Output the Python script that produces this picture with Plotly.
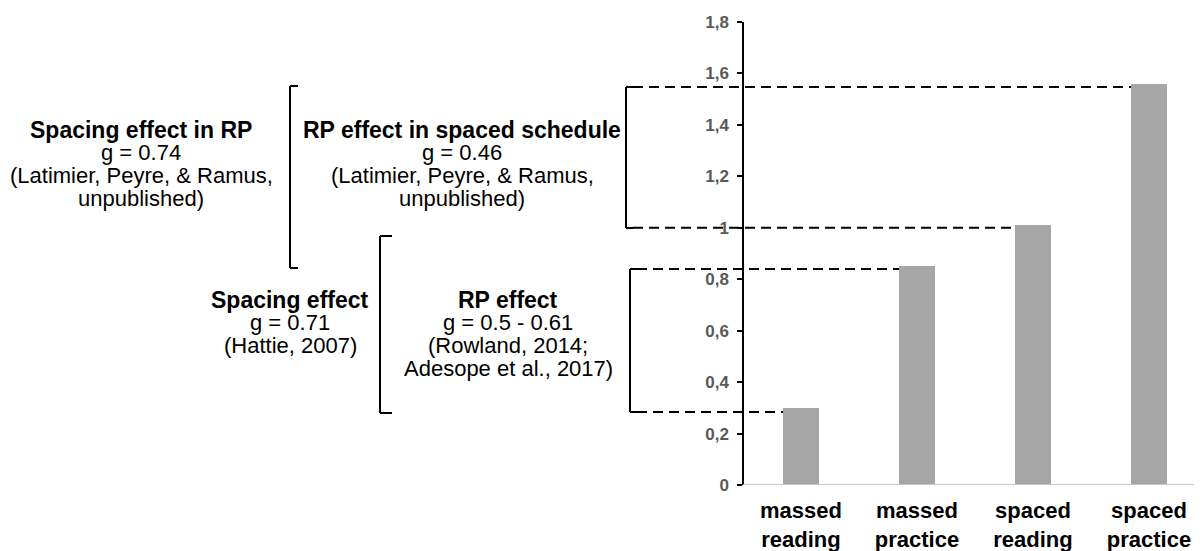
import plotly.graph_objects as go

categories = ["massed<br>reading", "massed<br>practice", "spaced<br>reading", "spaced<br>practice"]
scores = [0.30, 0.85, 1.01, 1.56]

y_ticks = [0, 0.2, 0.4, 0.6, 0.8, 1.0, 1.2, 1.4, 1.6, 1.8]
y_tick_text = ["0", "0,2", "0,4", "0,6", "0,8", "1", "1,2", "1,4", "1,6", "1,8"]

note_titles = ["Spacing effect in RP", "RP effect in spaced schedule", "Spacing effect", "RP effect"]
note_lines = [
    ["g = 0.74", "(Latimier, Peyre, & Ramus,", "unpublished)"],
    ["g = 0.46", "(Latimier, Peyre, & Ramus,", "unpublished)"],
    ["g = 0.71", "(Hattie, 2007)"],
    ["g = 0.5 - 0.61", "(Rowland, 2014;", "Adesope et al., 2017)"],
]

# dashed guide levels and the bar each one runs to
guide_levels = [1.547, 1.0, 0.84, 0.284]
guide_bars = [3, 2, 1, 0]

# --- layout in page pixels (the page body adds an 8px margin) ---
OFF = 8
W, H = 1202 - OFF, 551 - OFF
AX_PX = 743          # where the y axis sits on the page
CAT_PX = 116         # width of one category
Y0_PX, YTOP_PX = 485, 22
YMAX = 1.8
BAR_W = 0.31
FONT = "Arial, Liberation Sans, sans-serif"


def xd(px):
    return -0.5 + (px - AX_PX) / CAT_PX


def yd(py):
    return (Y0_PX - py) / (Y0_PX - YTOP_PX) * YMAX


fig = go.Figure(go.Bar(
    x=list(range(len(categories))),
    y=scores,
    width=BAR_W,
    marker=dict(color="#A6A6A6", line=dict(width=0)),
    hoverinfo="skip",
))

shapes = []
line_k = dict(color="black", width=2)

# baseline of the bar area
shapes.append(dict(type="line", xref="x", yref="y", x0=-0.5, x1=xd(W + OFF), y0=0, y1=0,
                   line=dict(color="#C8C8C8", width=2)))

# brackets: (x of vertical, top px, bottom px, serif px)
brackets = [(290, 86, 268, 8), (380, 236, 413, 12), (626, 87, 228, 7), (630, 269, 412, 7)]
for bx, top, bot, serif in brackets:
    for a, b, c, d in [(bx, top, bx, bot), (bx, top, bx + serif, top), (bx, bot, bx + serif, bot)]:
        shapes.append(dict(type="line", xref="x", yref="y", x0=xd(a), y0=yd(b), x1=xd(c), y1=yd(d),
                           line=line_k))

# dashed guides from the right-hand brackets to the bars
starts = [633, 633, 637, 637]
for lvl, bi, sx in zip(guide_levels, guide_bars, starts):
    shapes.append(dict(type="line", xref="x", yref="y", x0=xd(sx), x1=bi - BAR_W / 2, y0=lvl, y1=lvl,
                       line=dict(color="black", width=2, dash="10px,6px")))

annotations = []
note_pos = [(141, 130), (462, 130), (290, 300), (508, 300)]
LINE_H = 22.7
for (cx, cy), title, lines in zip(note_pos, note_titles, note_lines):
    rows = [(f"<b>{title}</b>", 23)] + [(t, 22) for t in lines]
    for k, (txt, size) in enumerate(rows):
        annotations.append(dict(
            xref="x", yref="y", x=xd(cx), y=yd(cy + k * LINE_H),
            text=txt, showarrow=False, xanchor="center", yanchor="middle",
            font=dict(family=FONT, size=size, color="black"),
        ))

fig.update_layout(
    width=W, height=H,
    margin=dict(l=0, r=0, t=YTOP_PX - OFF, b=H - (Y0_PX - OFF)),
    paper_bgcolor="white",
    plot_bgcolor="white",
    showlegend=False,
    bargap=0,
    shapes=shapes,
    annotations=annotations,
    xaxis=dict(
        range=[xd(OFF), xd(W + OFF)],
        tickmode="array", tickvals=list(range(len(categories))), ticktext=categories,
        showline=False, showgrid=False, zeroline=False, ticks="",
        tickfont=dict(family=FONT, size=22, color="black", weight="bold"),
        ticklabelstandoff=10,
    ),
    yaxis=dict(
        range=[0, YMAX],
        anchor="free", position=(AX_PX - OFF) / W,
        tickmode="array", tickvals=y_ticks, ticktext=y_tick_text,
        showline=True, linecolor="black", linewidth=1.5,
        ticks="outside", ticklen=5, tickcolor="black", tickwidth=1.5,
        showgrid=False, zeroline=False,
        tickfont=dict(family=FONT, size=17, color="#595959", weight="bold"),
        ticklabelstandoff=5,
    ),
)

fig.write_html("out.html")
